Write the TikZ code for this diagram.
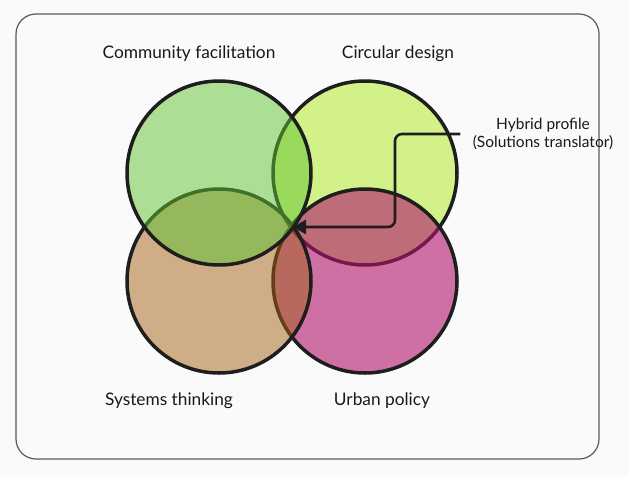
\documentclass[tikz,border=0pt]{standalone}
\usepackage{fontspec}
\setmainfont{Lato}
\usetikzlibrary{arrows.meta}

\definecolor{bgcol}{HTML}{FAFAFA}
\definecolor{commcol}{HTML}{60C432}
\definecolor{circcol}{HTML}{AEEA1A}
\definecolor{systcol}{HTML}{A46216}
\definecolor{urbcol}{HTML}{B1146C}
\definecolor{linecol}{HTML}{1E1E1E}

\begin{document}
\begin{tikzpicture}[x=1pt,y=-1pt,
    venn/.style={draw=linecol,line width=3.5pt,fill opacity=0.5},
    lbl/.style={font=\fontsize{17.3}{20}\selectfont,text=black!90},
    pointer/.style={draw=linecol,line width=2.6pt,rounded corners=7pt,-{Triangle[length=13pt,width=14pt]}}]
        % canvas and frame
        \fill[bgcol] (0,0) rectangle (629,477);
        \draw[line width=1.2pt,draw=black!65,fill=bgcol,rounded corners=20pt] (16,14) rectangle (599,459);
        % circles, drawn so the upper left one lies on top
        \filldraw[venn,fill=circcol] (365,173) circle (92);
        \filldraw[venn,fill=urbcol,fill opacity=0.6] (365,281) circle (92);
        \filldraw[venn,fill=systcol] (219,281) circle (92);
        \filldraw[venn,fill=commcol] (219,173) circle (92);
        % labels
        \node[lbl] (comm) at (189,54) {Community facilitation};
        \node[lbl] (circ) at (398,54) {Circular design};
        \node[lbl] (syst) at (169,401) {Systems thinking};
        \node[lbl] (urb) at (382,401) {Urban policy};
        \node[lbl,font=\fontsize{15.5}{18}\selectfont,align=center] (hybrid) at (543,134) {Hybrid profile\\(Solutions translator)};
        \coordinate (centre) at (293,227);
        \draw[pointer] ([xshift=-9pt]hybrid.west) -- (395,134) |- (centre);
    \end{tikzpicture}
\end{document}
